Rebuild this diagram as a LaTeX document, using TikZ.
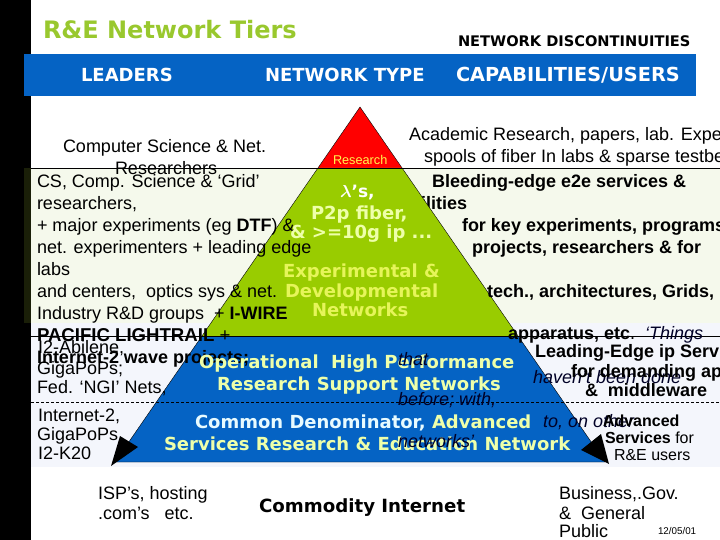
\documentclass[tikz,border=0pt]{standalone}
\usepackage{fontspec}
\setmainfont{Liberation Sans}
\newfontfamily\headfont{DejaVu Sans}
\usetikzlibrary{positioning}
\definecolor{headblue}{HTML}{0563C4}
\definecolor{tiergreen}{HTML}{99CC00}
\definecolor{titlegreen}{HTML}{99C82E}
\definecolor{palegreen}{HTML}{F5F9EC}
\definecolor{paleblue}{HTML}{F4F6FC}
\definecolor{paleyellow}{HTML}{EEFFAA}
\definecolor{brightyellow}{HTML}{E6F55A}
\definecolor{iceblue}{HTML}{E8FBFF}
\definecolor{dimblack}{HTML}{1A1F08}
\tikzstyle{txt} = [anchor=base west, inner sep=0pt, outer sep=0pt, text=black, font=\fontsize{18}{18}\selectfont]
\tikzstyle{bld} = [txt, font=\fontsize{18}{18}\selectfont\bfseries]
\tikzstyle{itl} = [txt, text=black!85!blue, font=\fontsize{18}{18}\selectfont\itshape]
\tikzstyle{small} = [txt, font=\fontsize{16}{16}\selectfont]
\tikzstyle{head} = [txt, text=white, font=\headfont\fontsize{18}{18}\selectfont\bfseries]
\tikzstyle{tier} = [txt, text=paleyellow, font=\headfont\fontsize{18}{18}\selectfont\bfseries]
\tikzstyle{arrowtip} = [fill=black]
\begin{document}
\begin{tikzpicture}[x=1pt,y=-1pt]
    \useasboundingbox (0,0) rectangle (720,540);
    \clip (0,0) rectangle (720,540);
    \fill[palegreen] (31,168) rectangle (720,323);
    \fill[paleblue] (31,323) rectangle (720,467);
    \fill[black] (0,0) rectangle (31,540);
    \fill[dimblack] (24,168) rectangle (31,323);
    \fill[headblue] (24,54) rectangle (696,96);
    \node[bld] (lities) at (421,210) {ilities};
    \coordinate (apex) at (360,107);
    \coordinate (redl) at (318,168);
    \coordinate (redr) at (402,168);
    \coordinate (midl) at (202,336);
    \coordinate (midr) at (518,336);
    \coordinate (botl) at (115,462);
    \coordinate (botr) at (605,462);
    \fill[red] (apex) -- (redl) -- (redr) -- cycle;
    \fill[tiergreen] (redl) -- (midl) -- (midr) -- (redr) -- cycle;
    \fill[headblue] (midl) -- (botl) -- (botr) -- (midr) -- cycle;
    \draw[thin] (apex) -- (botl) -- (botr) -- cycle;
    \draw (31,168) -- (720,168);
    \draw (31,336) -- (720,336);
    \draw[densely dashed,thin] (31,402) -- (720,402);
    \fill[arrowtip] (111,466) -- (120,436) -- (138,447) -- cycle;
    \fill[arrowtip] (609,464) -- (581,450) -- (601,434) -- cycle;
    \node[txt, text=titlegreen, font=\headfont\fontsize{24}{24}\selectfont\bfseries] (title) at (43,39) {R\&E Network Tiers};
    \node[txt, font=\headfont\fontsize{14.6}{15}\selectfont\bfseries] (disc) at (458,47) {NETWORK DISCONTINUITIES};
    \node[head] (leaders) at (81,82) {LEADERS};
    \node[head] (nettype) at (265,82) {NETWORK TYPE};
    \node[head, font=\headfont\fontsize{19.3}{19}\selectfont\bfseries] (caps) at (456,82) {CAPABILITIES/USERS};
    \node[txt] (cs1) at (63,153) {Computer Science \& Net.};
    \node[txt] (cs2) at (115,175) {Researchers};
    \node[txt] (cs3) at (37,188) {CS, Comp. Science \& ‘Grid’};
    \node[txt] (cs4) at (37,210) {researchers,};
    \node[txt] (cs5) at (37,232) {+ major experiments (eg \textbf{DTF}) \&};
    \node[txt] (cs6) at (37,254) {net. experimenters + leading edge};
    \node[txt] (cs7) at (37,275) {labs};
    \node[txt] (cs8) at (37,297) {and centers,\ \ optics sys \& net.};
    \node[txt] (cs9) at (37,319) {Industry R\&D groups\ \ + \textbf{I-WIRE}};
    \node[bld, font=\fontsize{18.6}{18}\selectfont\bfseries] (pac) at (37,341) {PACIFIC LIGHTRAIL \textmd{+}};
    \node[txt] (abi) at (38,353) {I2-Abilene,};
    \node[bld] (wave) at (37,363) {Internet-2 wave projects;};
    \node[txt] (giga) at (37,374) {GigaPoPs;};
    \node[txt] (ngi) at (37,393) {Fed. ‘NGI’ Nets,};
    \node[txt] (i2) at (38,421) {Internet-2,};
    \node[txt] (giga2) at (37,440) {GigaPoPs};
    \node[txt] (k20) at (38,459) {I2-K20};
    \node[txt] (isp) at (98,499) {ISP’s, hosting};
    \node[txt] (com) at (98,519) {.com’s\ \ \ etc.};
    \node[txt, font=\headfont\fontsize{18.2}{18}\selectfont\bfseries] (comm) at (259,512) {Commodity Internet};
    \node[txt] (bus) at (559,499) {Business,.Gov.};
    \node[txt] (gen) at (559,519) {\&\ \ General};
    \node[txt] (pub) at (559,537) {Public};
    \node[txt, font=\fontsize{9.8}{10}\selectfont] (date) at (658,534) {12/05/01};
    \node[txt] (acad) at (409,141) {Academic Research, papers, lab. Expe};
    \node[txt] (spool) at (424,163) {spools of fiber In labs \& sparse testbe};
    \node[bld] (bleed) at (432,188) {Bleeding-edge e2e services \&};
    \node[bld] (keyexp) at (462,232) {for key experiments, programs};
    \node[bld] (proj) at (472,254) {projects, researchers \& for};
    \node[bld] (tech) at (487,297) {tech., architectures, Grids,};
    \node[bld] (appar) at (508,339) {apparatus, etc\textmd{.}};
    \node[itl] (things) at (645,339) {‘Things};
    \node[txt, text=yellow!70!white, font=\fontsize{12.7}{13}\selectfont] (res) at (333,165) {Research};
    \node[txt, text=white, font=\headfont\fontsize{17}{17}\selectfont\bfseries] (lam) at (340,197) {{\boldmath$\lambda$}’s,};
    \node[tier] (p2p) at (311,220) {P2p fiber,};
    \node[tier] (ten) at (290,238) {\& >=10g ip ...};
    \node[tier, text=brightyellow] (exp) at (283,277) {Experimental \&};
    \node[tier, text=brightyellow] (dev) at (285,297) {Developmental};
    \node[tier, text=brightyellow] (nets) at (312,316) {Networks};
    \node[tier] (ophi) at (199,368) {Operational\ \ High Performance};
    \node[tier] (ressup) at (217,390) {Research Support Networks};
    \node[tier, text=iceblue] (cden) at (195,428) {Common Denominator, \textcolor{paleyellow}{Advanced}};
    \node[tier] (serres) at (164,450) {Services Research \& Education Network};
    \node[itl] (that) at (398,365) {that};
    \node[itl] (havent) at (533,383) {haven’t been done};
    \node[itl] (before) at (398,405) {before; with,};
    \node[itl] (toon) at (543,427) {to, on other};
    \node[itl] (netw) at (398,447) {networks’};
    \node[bld] (lead) at (535,357) {Leading-Edge ip Serv};
    \node[bld] (demand) at (571,377) {for demanding ap};
    \node[bld] (middle) at (585,396) {\&\ \ middleware};
    \node[small, font=\fontsize{16}{16}\selectfont\bfseries] (adv) at (603,426) {Advanced};
    \node[small] (serv) at (605,443) {\textbf{Services} for};
    \node[small] (reu) at (614,460) {R\&E users};
\end{tikzpicture}
\end{document}
